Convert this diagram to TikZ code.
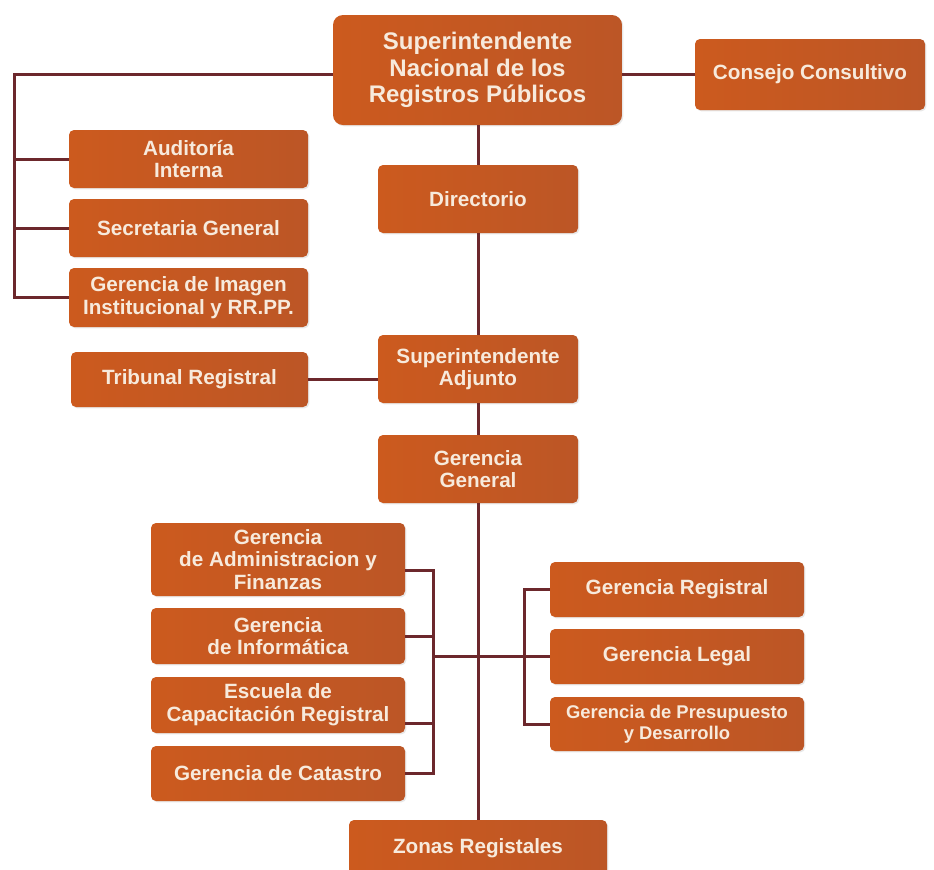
\documentclass[tikz,border=0pt]{standalone}
\usepackage{fontspec}
\setmainfont{Liberation Sans}
\usetikzlibrary{shadows}
\definecolor{naranja}{RGB}{204,90,30}
\definecolor{naranjaosc}{RGB}{188,86,38}
\definecolor{linea}{RGB}{108,40,44}
\definecolor{letra}{RGB}{247,234,220}
\begin{document}
\begin{tikzpicture}[x=0.75pt,y=-0.75pt,
	caja/.style={rounded corners=3.75pt,left color=naranja,right color=naranjaosc,
		text=letra,align=center,inner sep=0pt,
		font=\bfseries\fontsize{15.5}{17}\selectfont,
		drop shadow={opacity=0.18,shadow xshift=1pt,shadow yshift=-1pt}},
	central/.style={caja,minimum width=150pt,minimum height=51pt},
	izq/.style={caja,minimum width=179.25pt,minimum height=43.5pt},
	bloque/.style={caja,minimum width=190.5pt,minimum height=41.25pt},
	enlace/.style={draw=linea,line width=2.25pt}]
\clip (0,0) rectangle (934,869);
\fill[white] (0,0) rectangle (934,869);
%cajas
\node[caja,rounded corners=7.5pt,minimum width=216.75pt,minimum height=82.5pt,
	font=\bfseries\fontsize{18}{20}\selectfont] (sup) at (477.5,70)
	{Superintendente\\Nacional de los\\Registros Públicos};
\node[caja,minimum width=172.5pt,minimum height=53.25pt] (cons) at (810,74.5) {Consejo Consultivo};
\node[central] (dir) at (478,199) {Directorio};
\node[izq] (aud) at (188.5,159) {Auditoría\\Interna};
\node[izq] (sec) at (188.5,228) {Secretaria General};
\node[izq,minimum height=44.25pt] (img) at (188.5,297.5) {Gerencia de Imagen\\Institucional y RR.PP.};
\node[izq,minimum width=177.75pt,minimum height=41.25pt] (trib) at (189.5,379.5) {Tribunal Registral};
\node[central] (adj) at (478,369) {Superintendente\\Adjunto};
\node[central] (gg) at (478,469) {Gerencia\\General};
\node[bloque,minimum height=54.75pt] (adm) at (278,559.5) {Gerencia\\de Administracion y\\Finanzas};
\node[bloque,minimum height=42pt] (inf) at (278,636) {Gerencia\\de Informática};
\node[bloque,minimum height=42pt] (esc) at (278,705) {Escuela de\\Capacitación Registral};
\node[bloque] (cat) at (278,773.5) {Gerencia de Catastro};
\node[bloque] (reg) at (677,589.5) {Gerencia Registral};
\node[bloque] (leg) at (677,656.5) {Gerencia Legal};
\node[bloque,minimum height=40.5pt,font=\bfseries\fontsize{13.8}{16}\selectfont] (pre) at (677,724)
	{Gerencia de Presupuesto\\y Desarrollo};
\node[bloque,minimum width=193.5pt,minimum height=42pt] (zon) at (478,848) {Zonas Registales};
%lineas
\coordinate (lft) at (14,0);
\coordinate (lb) at (433,0);
\coordinate (rb) at (524,0);
\draw[enlace] (sup.east |- cons.west) -- (cons.west);
\draw[enlace] (sup.west |- cons.west) -| (lft |- img.west) -- (img.west);
\foreach \n in {aud,sec}
	\draw[enlace] (lft |- \n.west) -- (\n.west);
\draw[enlace] (dir.north |- sup.south) -- (dir.north);
\draw[enlace] (dir.south) -- (adj.north);
\draw[enlace] (adj.south) -- (gg.north);
\draw[enlace] (gg.south) -- (zon.north);
\draw[enlace] (trib.east) -- (trib.east -| adj.west);
\draw[enlace] ([yshift=-8.6pt]adm.east) -| (lb |- cat.east) -- (cat.east);
\draw[enlace] (inf.east) -- (lb |- inf.east);
\draw[enlace] ([yshift=-13.5pt]esc.east) -- ([yshift=-13.5pt]lb |- esc.east);
\draw[enlace] (lb |- leg.west) -- (rb |- leg.west);
\draw[enlace] (reg.west) -| (rb |- pre.west) -- (pre.west);
\draw[enlace] (rb |- leg.west) -- (leg.west);
\end{tikzpicture}
\end{document}
